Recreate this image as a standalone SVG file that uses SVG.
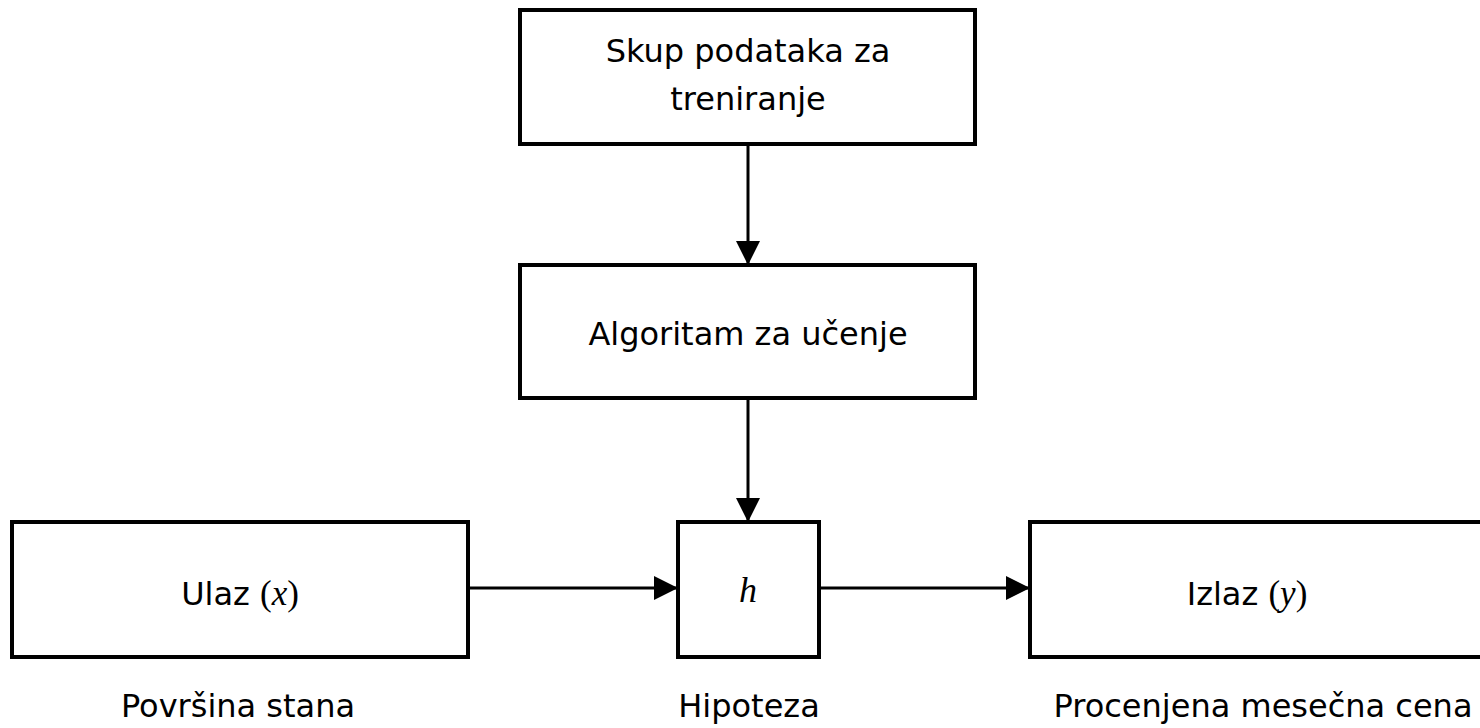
<svg xmlns="http://www.w3.org/2000/svg" width="1480" height="728" viewBox="0 0 1480 728">
<style>
.box{fill:#fff;stroke:#000;stroke-width:4}
.t{font-family:"DejaVu Sans",Verdana,sans-serif;font-size:32px;fill:#000;text-anchor:middle}
.m{font-family:"Liberation Serif","Times New Roman",serif;font-size:35px}
.i{font-style:italic}
.c{stroke:#000;stroke-width:3;fill:none}
</style>
<defs>
<marker id="ah" markerUnits="userSpaceOnUse" markerWidth="24" markerHeight="24" refX="24" refY="12" orient="auto">
<path d="M0,0 L24,12 L0,24 Z" fill="#000"/>
</marker>
</defs>
<rect width="1480" height="728" fill="#fff"/>
<g id="connectors">
<line class="c" x1="748" y1="144" x2="748" y2="265" marker-end="url(#ah)"/>
<line class="c" x1="748" y1="398" x2="748" y2="522" marker-end="url(#ah)"/>
<line class="c" x1="468" y1="588" x2="678" y2="588" marker-end="url(#ah)"/>
<line class="c" x1="819" y1="588" x2="1030" y2="588" marker-end="url(#ah)"/>
</g>
<g id="node-skup">
<rect class="box" x="520" y="10" width="455" height="134"/>
<text class="t" x="748" y="62">Skup podataka za</text>
<text class="t" x="748" y="110">treniranje</text>
</g>
<g id="node-algoritam">
<rect class="box" x="520" y="265" width="455" height="133"/>
<text class="t" x="748" y="345">Algoritam za učenje</text>
</g>
<g id="node-ulaz">
<rect class="box" x="12" y="522" width="456" height="135"/>
<text class="t" x="240" y="605">Ulaz <tspan class="m">(<tspan class="i">x</tspan>)</tspan></text>
</g>
<g id="node-h">
<rect class="box" x="678" y="522" width="141" height="135"/>
<text class="t m i" x="748" y="602" style="font-size:36px">h</text>
</g>
<g id="node-izlaz">
<rect class="box" x="1030" y="522" width="470" height="135"/>
<text class="t" x="1247" y="605">Izlaz <tspan class="m">(<tspan class="i">y</tspan>)</tspan></text>
</g>
<g id="labels">
<text class="t" x="238" y="717">Površina stana</text>
<text class="t" x="749" y="717">Hipoteza</text>
<text class="t" x="1263" y="717">Procenjena mesečna cena</text>
</g>
</svg>
